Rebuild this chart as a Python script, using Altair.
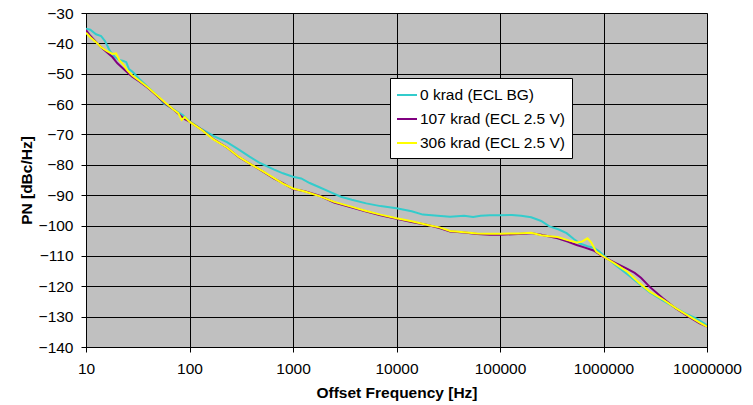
import altair as alt
import pandas as pd

# 0 krad (ECL BG)
f_0 = [10, 11, 12.5, 14, 15.3, 17, 19, 21, 23, 24.5, 26, 28, 33, 40, 48, 52, 56, 62, 72, 86,
       100, 130, 170, 230, 300, 380, 480, 650, 800, 1000, 1200, 1450, 1800, 2300, 2900, 3700,
       5100, 7000, 10000, 14000, 18000, 25000, 33000, 45000, 55000, 65000, 80000, 100000,
       130000, 160000, 200000, 250000, 300000, 370000, 440000, 520000, 600000, 700000, 800000,
       900000, 1000000, 1300000, 1700000, 2200000, 2800000, 3700000, 5000000, 6500000, 8000000,
       10000000]
pn_0 = [-35.2, -35.5, -37.0, -37.6, -39.3, -42.5, -44.5, -45.5, -45.8, -46.2, -48.5, -49.3,
        -51.8, -54.5, -57.0, -58.3, -59.8, -60.6, -62.0, -63.6, -65.6, -68.2, -70.5, -72.5,
        -75.0, -77.3, -79.4, -81.5, -82.8, -83.9, -84.5, -86.0, -87.4, -89.0, -90.5, -91.5,
        -92.7, -93.6, -94.3, -95.3, -96.4, -96.8, -97.1, -96.8, -97.2, -96.8, -96.6, -96.6,
        -96.5, -96.8, -97.3, -98.5, -100.3, -101.3, -102.5, -104.5, -106.0, -106.8, -107.3,
        -108.4, -109.8, -113.0, -116.0, -119.2, -122.0, -124.6, -127.2, -129.3, -130.7, -132.8]

# 107 krad (ECL 2.5 V)
f_107 = [10, 11, 12.5, 14, 16, 18, 20, 22, 25, 28, 33, 40, 48, 58, 70, 80, 90, 100, 130, 170,
         230, 300, 400, 500, 650, 800, 1000, 1300, 1800, 2500, 3500, 5000, 7000, 10000, 14000,
         20000, 26000, 33000, 45000, 60000, 80000, 100000, 150000, 200000, 250000, 300000,
         360000, 450000, 550000, 650000, 800000, 1000000, 1300000, 1700000, 2000000, 2300000,
         2800000, 3700000, 5000000, 6500000, 8500000, 10000000]
pn_107 = [-35.6, -37.5, -39.5, -41.3, -43.0, -44.5, -46.5, -47.8, -49.5, -51.0, -52.6, -54.8,
          -57.2, -59.8, -61.8, -63.5, -65.0, -65.8, -68.3, -71.5, -74.3, -77.5, -80.0, -82.0,
          -84.5, -86.0, -88.0, -88.7, -90.2, -92.4, -93.8, -95.3, -96.6, -97.8, -98.8, -99.8,
          -100.8, -102.0, -102.3, -102.8, -103.0, -103.0, -102.8, -102.5, -103.0, -103.6,
          -104.2, -105.3, -106.4, -107.2, -108.2, -110.3, -112.3, -114.3, -115.6, -117.2,
          -120.2, -123.8, -127.3, -129.8, -132.2, -133.3]

# 306 krad (ECL 2.5 V)
f_306 = [10, 11, 12.5, 14, 16, 18, 19.5, 21, 23, 25, 28, 33, 40, 48, 58, 70, 78, 84, 90, 100,
         130, 170, 230, 300, 400, 500, 650, 800, 1000, 1300, 1800, 2500, 3500, 5000, 7000,
         10000, 14000, 20000, 26000, 33000, 45000, 60000, 80000, 100000, 150000, 200000,
         250000, 300000, 360000, 450000, 550000, 620000, 700000, 760000, 850000, 1000000,
         1300000, 1700000, 2200000, 2800000, 3700000, 5000000, 6500000, 8500000, 10000000]
pn_306 = [-36.5, -38.0, -39.6, -41.3, -42.6, -43.5, -43.3, -45.5, -47.0, -48.8, -50.6, -52.4,
          -54.6, -57.0, -59.5, -61.8, -63.0, -65.2, -64.3, -65.8, -68.4, -71.6, -74.3, -77.4,
          -80.0, -81.9, -84.3, -86.2, -87.8, -88.8, -90.3, -92.2, -93.6, -95.1, -96.4, -97.6,
          -98.6, -99.8, -100.6, -101.8, -102.2, -102.6, -102.7, -102.7, -102.6, -102.4,
          -103.2, -103.5, -103.8, -104.8, -105.6, -105.3, -104.2, -105.5, -108.6, -110.2,
          -112.6, -115.2, -118.8, -121.8, -124.2, -127.2, -129.6, -132.0, -133.3]

series_names = ["0 krad (ECL BG)", "107 krad (ECL 2.5 V)", "306 krad (ECL 2.5 V)"]
series_colors = ["#33CCCC", "#800080", "#FFFF00"]

x_ticks = [10, 100, 1000, 10000, 100000, 1000000, 10000000]
y_ticks = [-140, -130, -120, -110, -100, -90, -80, -70, -60, -50, -40, -30]

frames = []
for order, (name, fs, vals) in enumerate(zip(series_names, [f_0, f_107, f_306],
                                             [pn_0, pn_107, pn_306])):
    frames.append(pd.DataFrame({"freq": fs, "pn": vals, "series": name, "order": order}))
df = pd.concat(frames, ignore_index=True)

FONT = "Liberation Sans"
FS = 15.5

chart = (
    alt.Chart(df)
    .mark_line(strokeWidth=2, clip=True)
    .encode(
        x=alt.X(
            "freq:Q",
            scale=alt.Scale(type="log", domain=[10, 10000000], nice=False),
            axis=alt.Axis(
                title="Offset Frequency [Hz]",
                values=x_ticks,
                format="d",
                tickSize=5,
                labelPadding=9,
                labelFlush=False,
                labelOverlap=False,
                titlePadding=9,
            ),
        ),
        y=alt.Y(
            "pn:Q",
            scale=alt.Scale(domain=[-140, -30], nice=False, zero=False),
            axis=alt.Axis(
                title="PN [dBc/Hz]",
                values=y_ticks,
                tickSize=5,
                labelPadding=8,
                labelFlush=False,
                labelOverlap=False,
                titlePadding=4,
            ),
        ),
        color=alt.Color(
            "series:N",
            scale=alt.Scale(domain=series_names, range=series_colors),
            legend=alt.Legend(
                title=None,
                orient="none",
                legendX=304,
                legendY=65,
                symbolType="stroke",
                symbolSize=400,
                symbolStrokeWidth=2,
                labelFontSize=FS,
                labelFont=FONT,
                labelColor="#000000",
                labelOffset=2,
                rowPadding=4,
                padding=6,
                fillColor="#FFFFFF",
                strokeColor="#000000",
            ),
        ),
        order=alt.Order("order:Q"),
        detail="series:N",
    )
    .properties(
        width=621,
        height=334,
        autosize=alt.AutoSizeParams(type="none"),
        padding={"left": 86, "top": 13, "right": 46, "bottom": 58},
        background="#FFFFFF",
    )
    .configure_view(fill="#C0C0C0", stroke="#808080", strokeWidth=1)
    .configure_axis(
        grid=True,
        gridColor="#000000",
        gridWidth=1,
        gridOpacity=1,
        domainColor="#000000",
        tickColor="#000000",
        labelFont=FONT,
        labelFontSize=FS,
        labelColor="#000000",
        titleFont=FONT,
        titleFontSize=FS,
        titleFontWeight="bold",
        titleColor="#000000",
    )
)

chart.save("out.html", embed_options={"renderer": "svg", "actions": False})
